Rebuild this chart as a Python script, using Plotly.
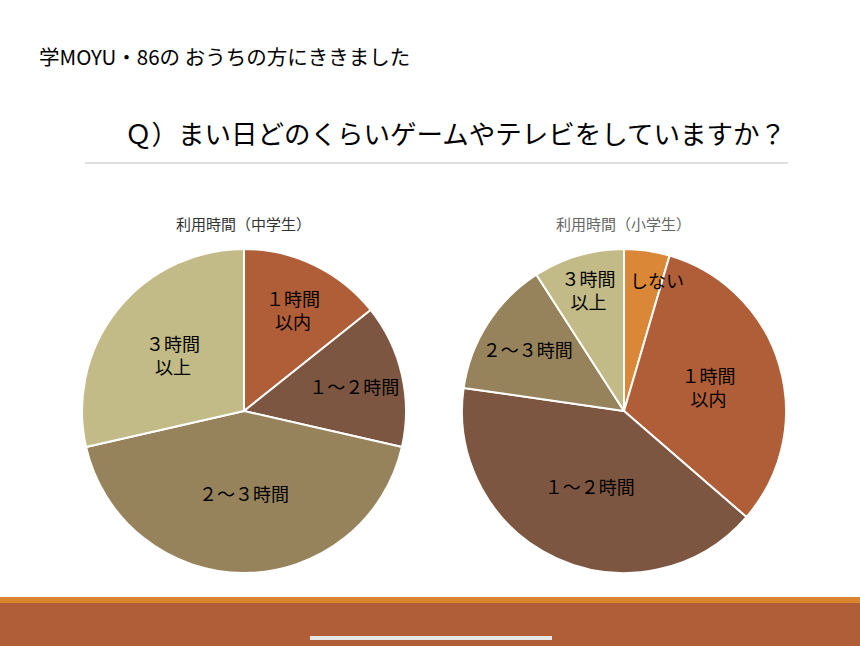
import math
import plotly.graph_objects as go

# ---- data ----
jhs_labels = ["１時間<br>以内", "１～２時間", "２～３時間", "３時間<br>以上"]
jhs_values = [1, 1, 3, 2]
jhs_colors = ["#B05E38", "#7D5641", "#97835B", "#C2BA87"]

es_labels = ["しない", "１時間<br>以内", "１～２時間", "２～３時間", "３時間<br>以上"]
es_values = [1, 7, 9, 3, 2]
es_colors = ["#DA8737", "#B05E38", "#7D5641", "#97835B", "#C2BA87"]

header_text = "学MOYU・86の おうちの方にききました"
title_text = "Ｑ）まい日どのくらいゲームやテレビをしていますか？"
jhs_title = "利用時間（中学生）"
es_title = "利用時間（小学生）"

W, H = 860, 646
FONT = "Noto Sans CJK JP"
LABEL_SIZE = 18

def px_x(x):
    return x / W

def px_y(y):
    return 1 - y / H

# pie boxes in pixels (left, top, right, bottom)
jhs_box = (82, 249, 406, 573)
es_box = (462, 249, 786, 573)

def dom(box):
    l, t, r, b = box
    return dict(x=[px_x(l), px_x(r)], y=[px_y(b), px_y(t)])

# slice texts: tiny slices get an outer annotation instead of squeezed inside text
es_text = [lab if v / sum(es_values) > 0.06 else "" for lab, v in zip(es_labels, es_values)]

fig = go.Figure()

fig.add_trace(go.Pie(
    labels=jhs_labels, values=jhs_values, text=jhs_labels,
    textinfo="text", textposition="inside", insidetextorientation="horizontal",
    sort=False, direction="clockwise", rotation=0,
    marker=dict(colors=jhs_colors, line=dict(color="white", width=2)),
    textfont=dict(family=FONT, size=LABEL_SIZE, color="black"),
    domain=dom(jhs_box),
    showlegend=False, hoverinfo="label+percent",
))

fig.add_trace(go.Pie(
    labels=es_labels, values=es_values, text=es_text,
    textinfo="text", textposition="inside", insidetextorientation="horizontal",
    sort=False, direction="clockwise", rotation=0,
    marker=dict(colors=es_colors, line=dict(color="white", width=2)),
    textfont=dict(family=FONT, size=LABEL_SIZE, color="black"),
    domain=dom(es_box),
    showlegend=False, hoverinfo="label+percent",
))

shapes = [
    dict(type="line", xref="paper", yref="paper", x0=px_x(85), x1=px_x(788),
         y0=px_y(163), y1=px_y(163), line=dict(color="#BFBFBF", width=1.2)),
    dict(type="rect", xref="paper", yref="paper", x0=0, x1=1,
         y0=0, y1=px_y(603), fillcolor="#B05E38", line=dict(width=0), layer="below"),
    dict(type="rect", xref="paper", yref="paper", x0=0, x1=1,
         y0=px_y(603), y1=px_y(597), fillcolor="#D9852F", line=dict(width=0), layer="below"),
    dict(type="rect", xref="paper", yref="paper", x0=px_x(310), x1=px_x(552),
         y0=px_y(640), y1=px_y(636), fillcolor="#E6E6E6", line=dict(width=0)),
]

annotations = [
    dict(text=header_text, x=px_x(37), y=px_y(56), xref="paper", yref="paper",
         xanchor="left", yanchor="middle", showarrow=False,
         font=dict(family=FONT, size=20.5, color="black")),
    dict(text=title_text, x=px_x(455), y=px_y(132), xref="paper", yref="paper",
         xanchor="center", yanchor="middle", showarrow=False,
         font=dict(family=FONT, size=26.5, color="black")),
    dict(text=jhs_title, x=px_x(243), y=px_y(223), xref="paper", yref="paper",
         xanchor="center", yanchor="middle", showarrow=False,
         font=dict(family=FONT, size=15, color="#333333")),
    dict(text=es_title, x=px_x(623), y=px_y(223), xref="paper", yref="paper",
         xanchor="center", yanchor="middle", showarrow=False,
         font=dict(family=FONT, size=15, color="#666666")),
]

# labels for tiny slices, placed along the slice's mid angle
cx = (es_box[0] + es_box[2]) / 2
cy = (es_box[1] + es_box[3]) / 2
R = (es_box[2] - es_box[0]) / 2
total = sum(es_values)
cum = 0
for lab, v, t in zip(es_labels, es_values, es_text):
    mid = (cum + v / 2) / total * 2 * math.pi
    cum += v
    if t == "":
        x = cx + 0.82 * R * math.sin(mid)
        y = cy - 0.82 * R * math.cos(mid)
        annotations.append(dict(text=lab, x=px_x(x), y=px_y(y), xref="paper", yref="paper",
                                xanchor="left", yanchor="middle", showarrow=False, xshift=-15,
                                font=dict(family=FONT, size=LABEL_SIZE, color="black")))

fig.update_layout(
    width=W, height=H,
    margin=dict(l=0, r=0, t=0, b=0),
    paper_bgcolor="white", plot_bgcolor="white",
    shapes=shapes, annotations=annotations,
    uniformtext=dict(minsize=LABEL_SIZE, mode="show"),
)

fig.write_html("out.html", config={"displayModeBar": False},
               post_script="document.body.style.margin='0px';document.body.style.overflow='hidden';")
